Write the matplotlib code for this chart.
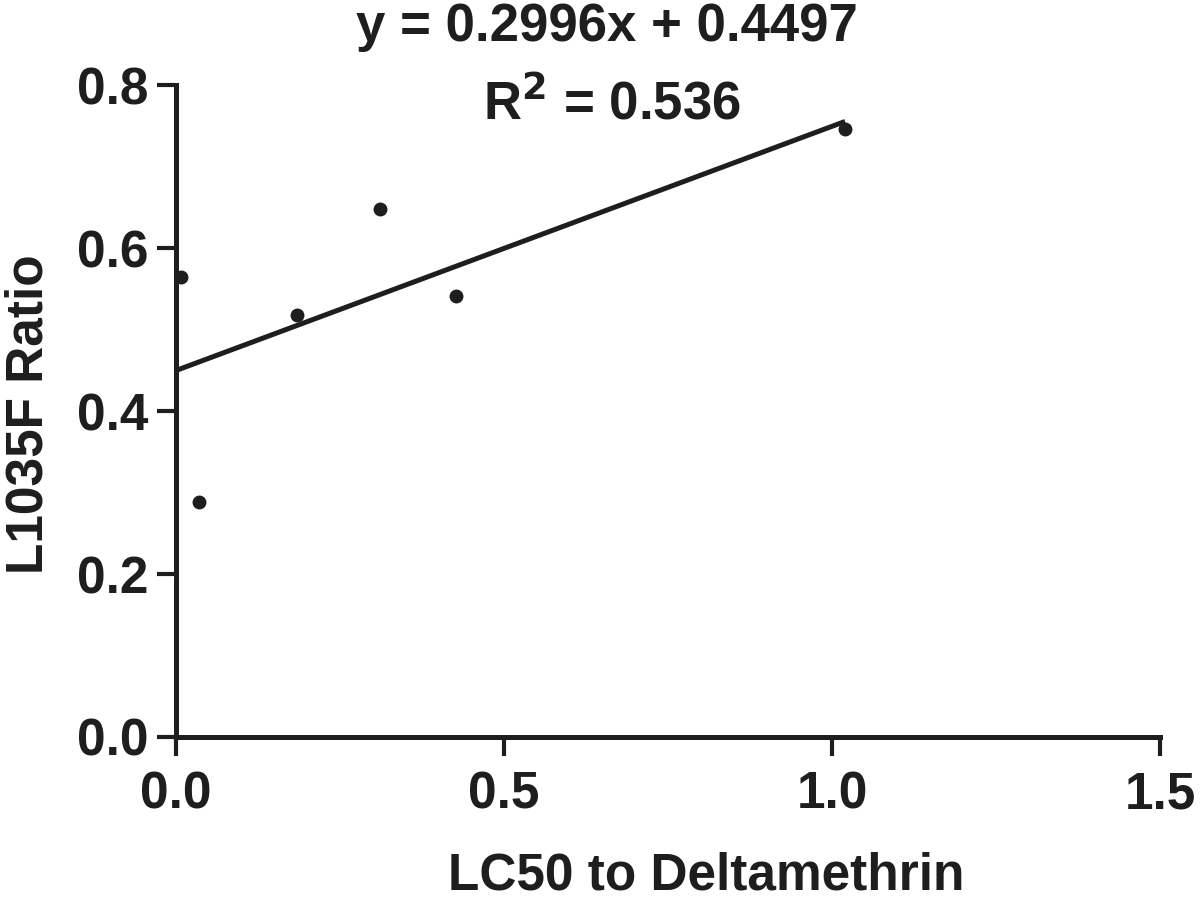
import numpy as np
import matplotlib
matplotlib.use('Agg')
import matplotlib.pyplot as plt

plt.rcParams['font.family'] = ['Liberation Sans', 'DejaVu Sans']
plt.rcParams['font.weight'] = 'bold'

# data
lc50 = [0.008, 0.035, 0.184, 0.311, 0.427, 1.02]
ratio = [0.564, 0.288, 0.518, 0.648, 0.541, 0.746]
slope = 0.2996
intercept = 0.4497
r2 = 0.536
x_ticks = [0.0, 0.5, 1.0, 1.5]
y_ticks = [0.0, 0.2, 0.4, 0.6, 0.8]

ink = '#1e1e1e'

fig = plt.figure(figsize=(12, 9.05), dpi=100)
ax = fig.add_axes([176 / 1200, 1 - 737 / 905, 984 / 1200, 652 / 905])

ax.plot(lc50, ratio, 'o', color=ink, markersize=9, clip_on=False, zorder=3)

xs = np.array([0.0, max(lc50)])
ax.plot(xs, slope * xs + intercept, '-', color=ink, linewidth=3.6,
        solid_capstyle='butt', zorder=2)

ax.set_xlim(0, 1.5)
ax.set_ylim(0, 0.8)
ax.set_xticks(x_ticks)
ax.set_yticks(y_ticks)
ax.set_xticklabels([f'{t:.1f}' for t in x_ticks])
ax.set_yticklabels([f'{t:.1f}' for t in y_ticks])

for side in ['top', 'right']:
    ax.spines[side].set_visible(False)
for side in ['left', 'bottom']:
    ax.spines[side].set_linewidth(3.6)
    ax.spines[side].set_color(ink)

ax.tick_params(axis='both', length=14, width=3, color=ink,
               labelsize=37, labelcolor=ink)
ax.tick_params(axis='x', pad=10)
ax.tick_params(axis='y', pad=6)

ax.set_xlabel('LC50 to Deltamethrin', fontsize=37, fontweight='bold', color=ink)
ax.set_ylabel('L1035F Ratio', fontsize=37, fontweight='bold', color=ink)
ax.xaxis.set_label_coords(0.539, -0.175)
ax.yaxis.set_label_coords(-0.124, 0.495)

fig.text(607 / 1200, 1 - 27 / 905, f'y = {slope:.4f}x + {intercept:.4f}',
         ha='center', va='center', fontsize=38, fontweight='bold', color=ink)
fig.text(612 / 1200, 1 - 104 / 905, f'R$^{{\\mathbf{{2}}}}$ = {r2:.3f}',
         ha='center', va='center', fontsize=38, fontweight='bold', color=ink)

fig.savefig('out.png', dpi=100, facecolor='white')
